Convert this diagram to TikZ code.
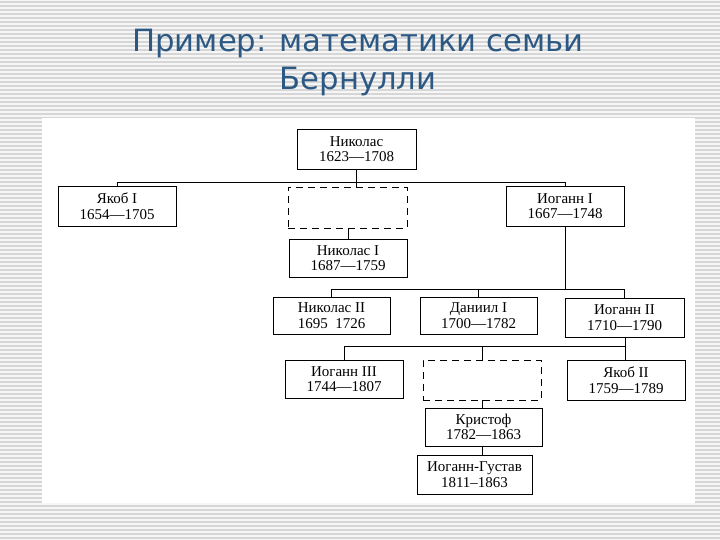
\documentclass[tikz,border=0pt]{standalone}
\usepackage{fontspec}
\setmainfont{Liberation Serif}
\newfontfamily\titlefont{DejaVu Sans}
\definecolor{titleblue}{RGB}{44,88,132}
\definecolor{stripegray}{RGB}{214,214,214}
\definecolor{bggray}{RGB}{246,246,246}
\begin{document}
\begin{tikzpicture}[x=1pt,y=-1pt,
  pbox/.style={draw=black, line width=0.9pt, fill=white, inner sep=0pt, align=center,
    font=\fontsize{15}{15.5}\selectfont},
  dbox/.style={draw=black, line width=0.9pt, dashed, dash pattern=on 7pt off 5pt, inner sep=0pt},
  conn/.style={draw=black, line width=0.9pt}]
\useasboundingbox (0,0) rectangle (720,540);
% slide background
\fill[bggray] (0,0) rectangle (720,540);
\foreach \i in {0,...,134} \fill[stripegray] (0,{4*\i+1}) rectangle (720,{4*\i+2.6});
\fill[white] (42,118) rectangle (695,503);
% title
\node[text=titleblue, font=\titlefont\fontsize{30.7}{38}\selectfont, align=center] (title) at (358,63)
  {Пример: математики семьи\\Бернулли};
% boxes
\node[pbox, minimum width=119, minimum height=40] (nik) at (356.5,149) {Николас\\1623—1708};
\node[pbox, minimum width=118, minimum height=40] (jak1) at (117,206) {Якоб I\\1654—1705};
\node[dbox, minimum width=119, minimum height=41] (d1) at (347.5,207.5) {};
\node[pbox, minimum width=118, minimum height=40] (iog1) at (565,206) {Иоганн I\\1667—1748};
\node[pbox, minimum width=118, minimum height=38] (nik1) at (348,258) {Николас I\\1687—1759};
\node[pbox, minimum width=117, minimum height=37] (nik2) at (331.5,315.5) {Николас II\\1695\enspace1726};
\node[pbox, minimum width=117, minimum height=37] (dan) at (478.5,315.5) {Даниил I\\1700—1782};
\node[pbox, minimum width=119, minimum height=39] (iog2) at (624.5,317.5) {Иоганн II\\1710—1790};
\node[pbox, minimum width=118, minimum height=38] (iog3) at (344,379) {Иоганн III\\1744—1807};
\node[dbox, minimum width=118, minimum height=40] (d2) at (482,380) {};
\node[pbox, minimum width=118, minimum height=40] (jak2) at (626,380) {Якоб II\\1759—1789};
\node[pbox, minimum width=117, minimum height=38] (kris) at (483.5,427) {Кристоф\\1782—1863};
\node[pbox, minimum width=115, minimum height=39] (gus) at (474.5,474.5) {Иоганн-Густав\\1811–1863};
% junctions
\coordinate (b1L) at (117,182);
\coordinate (b1R) at (565,182);
\coordinate (b2L) at (331.5,289);
\coordinate (b2R) at (624.5,289);
\coordinate (b3L) at (344,346);
\coordinate (b3R) at (625,346);
% connectors
\draw[conn] (nik.south -| 356,0) -- (d1.north -| 356,0);
\draw[conn] (jak1.north) -- (b1L) -- (b1R) -- (iog1.north);
\draw[conn] (d1.south -| 348,0) -- (nik1.north);
\draw[conn] (iog1.south) -- (iog1.south |- b2L);
\draw[conn] (nik2.north) -- (b2L) -- (b2R) -- (iog2.north);
\draw[conn] (dan.north) -- (dan.north |- b2L);
\draw[conn] (iog2.south -| 625,0) -- (jak2.north -| 625,0);
\draw[conn] (iog3.north) -- (b3L) -- (b3R);
\draw[conn] (d2.north) -- (d2.north |- b3L);
\draw[conn] (d2.south) -- (kris.north -| d2.south);
\draw[conn] (kris.south -| d2.south) -- (gus.north -| d2.south);
\end{tikzpicture}
\end{document}
